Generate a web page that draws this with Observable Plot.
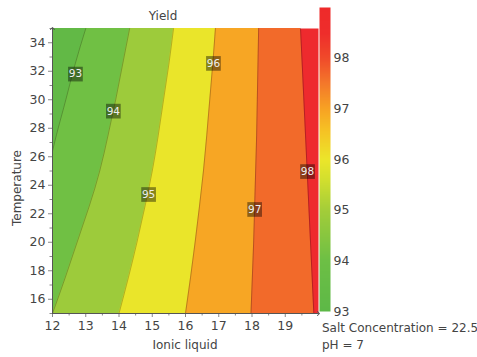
<!DOCTYPE html>
<html><head><meta charset="utf-8">
<script src="https://cdn.jsdelivr.net/npm/d3@7"></script>
<script src="https://cdn.jsdelivr.net/npm/@observablehq/plot@0.6"></script>
<style>
body{margin:0;background:#fff;}
#wrap{position:relative;width:477px;height:357px;font-family:"DejaVu Sans",sans-serif;color:#444;overflow:hidden;}
#wrap svg{position:absolute;left:0;top:0;}
.t{position:absolute;font-size:12px;white-space:nowrap;color:#444;transform:translate(-50%,-50%);}
.l{position:absolute;font-size:12px;white-space:nowrap;color:#444;transform:translate(0,-50%);}
</style></head><body><div id="wrap"></div>
<script>
// ---- data ----
const xDomain = [12, 20];
const yDomain = [15, 35];
const levels = [93, 94, 95, 96, 97, 98];
const lineY = [15, 17.5, 20, 22.5, 25, 27.5, 30, 32.5, 35];
const line93Y = [26.4, 28, 30, 32.5, 35];
const line93X = [12.0, 12.17, 12.4, 12.68, 13.0];
const line94X = [12.0, 12.38, 12.74, 13.1, 13.42, 13.67, 13.9, 14.11, 14.32];
const line95X = [14.0, 14.28, 14.54, 14.78, 15.0, 15.18, 15.34, 15.5, 15.64];
const line96X = [16.0, 16.15, 16.29, 16.42, 16.54, 16.64, 16.73, 16.82, 16.9];
const line97X = [17.97, 18.01, 18.05, 18.08, 18.11, 18.14, 18.16, 18.18, 18.2];
const line98X = [19.86, 19.81, 19.76, 19.71, 19.66, 19.61, 19.56, 19.51, 19.46];
const labelX = [12.69, 13.83, 14.89, 16.84, 18.08, 19.67];
const labelY = [31.8, 29.2, 23.35, 32.55, 22.3, 24.96];
const bandColors = ["#62b946", "#70c044", "#9dcb3b", "#eae52a", "#f7a624", "#f26a2a", "#ee2a2e"];
const cbDomain = [93, 94, 95, 95.6, 96, 96.6, 97, 97.5, 98, 98.5, 99];
const cbRange = ["#5db847", "#6dbf45", "#a4cd39", "#d2df2e", "#ece62a", "#f6c024", "#f7a223", "#f4782a", "#f04a2a", "#ee2d2b", "#ee2a2a"];
const cbTicks = [93, 94, 95, 96, 97, 98];
const xTicks = [12, 13, 14, 15, 16, 17, 18, 19];
const xMinor = [12.5, 13.5, 14.5, 15.5, 16.5, 17.5, 18.5, 19.5];
const yTicks = [16, 18, 20, 22, 24, 26, 28, 30, 32, 34];
const yMinor = [15, 17, 19, 21, 23, 25, 27, 29, 31, 33, 35];

// ---- build tables ----
const zip = (xs, ys) => xs.map((x, i) => ({x, y: ys[i]}));
const lines = [
  {v: 93, pts: zip(line93X, line93Y)},
  {v: 94, pts: zip(line94X, lineY)},
  {v: 95, pts: zip(line95X, lineY)},
  {v: 96, pts: zip(line96X, lineY)},
  {v: 97, pts: zip(line97X, lineY)},
  {v: 98, pts: zip(line98X, lineY)}
];
const labels = levels.map((v, i) => ({v, x: labelX[i], y: labelY[i]}));
const xAxisLine = [{x: xDomain[0], y: yDomain[0]}, {x: xDomain[1], y: yDomain[0]}];
const yAxisLine = [{x: xDomain[0], y: yDomain[0]}, {x: xDomain[0], y: yDomain[1]}];
const curve = "natural";
const fmt = d => String(d);

const main = Plot.plot({
  width: 477, height: 357,
  marginLeft: 52, marginRight: 159, marginTop: 28, marginBottom: 44,
  x: {domain: xDomain},
  y: {domain: yDomain},
  style: {fontFamily: "DejaVu Sans, sans-serif", fontSize: "12px", color: "#444", background: "transparent"},
  marks: [
    Plot.frame({fill: bandColors[6], stroke: null}),
    ...lines.slice().reverse().map(L =>
      Plot.areaX(L.pts, {y: "y", x1: () => xDomain[0], x2: "x", fill: bandColors[levels.indexOf(L.v)], curve})),
    ...lines.map(L => Plot.line(L.pts, {x: "x", y: "y", stroke: "#000", strokeOpacity: 0.3, strokeWidth: 0.8, curve})),
    Plot.dot(labels, {x: "x", y: "y", symbol: "square", r: 8.3, fill: "#000", fillOpacity: 0.42, stroke: null}),
    Plot.text(labels, {x: "x", y: "y", text: d => String(d.v), fill: "#eee", fontSize: 10.5}),
    Plot.axisX({ticks: xTicks, tickSize: 4, tickPadding: 4, label: null, stroke: "#888", fontSize: 12.5, tickFormat: fmt}),
    Plot.axisX({ticks: xMinor, tickSize: 2.5, tickFormat: () => "", label: null, stroke: "#888"}),
    Plot.axisY({ticks: yTicks, tickSize: 4, tickPadding: 3, label: null, stroke: "#888", fontSize: 12.5, tickFormat: fmt}),
    Plot.axisY({ticks: yMinor, tickSize: 2.5, tickFormat: () => "", label: null, stroke: "#888"}),
    Plot.line(xAxisLine, {x: "x", y: "y", stroke: "#555", strokeWidth: 1, markerEnd: "arrow"}),
    Plot.line(yAxisLine, {x: "x", y: "y", stroke: "#555", strokeWidth: 1, markerEnd: "arrow"})
  ]
});

const bar = Plot.plot({
  width: 477, height: 357,
  marginLeft: 319, marginRight: 147, marginTop: 7, marginBottom: 46,
  x: {domain: [0, 1], axis: null},
  y: {domain: [93, 99]},
  color: {type: "linear", domain: cbDomain, range: cbRange},
  style: {fontFamily: "DejaVu Sans, sans-serif", fontSize: "12px", color: "#444", background: "transparent"},
  marks: [
    Plot.raster({x1: 0, x2: 1, y1: 93, y2: 99, fill: (x, y) => y, pixelSize: 1}),
    Plot.axisY({anchor: "right", ticks: cbTicks, tickSize: 0, tickPadding: 3, label: null, fontSize: 12.5, tickFormat: fmt})
  ]
});

const wrap = document.getElementById("wrap");
wrap.appendChild(main);
wrap.appendChild(bar);
const addText = (cls, txt, x, y, extra) => {
  const d = document.createElement("div");
  d.className = cls; d.textContent = txt;
  d.style.left = x + "px"; d.style.top = y + "px";
  if (extra) d.style.transform = extra;
  wrap.appendChild(d);
};
addText("t", "Yield", 163, 16);
addText("t", "Ionic liquid", 185, 345);
addText("t", "Temperature", 17, 188, "translate(-50%,-50%) rotate(-90deg)");
addText("l", "Salt Concentration = 22.5", 322, 328);
addText("l", "pH = 7", 322, 345);
</script></body></html>
